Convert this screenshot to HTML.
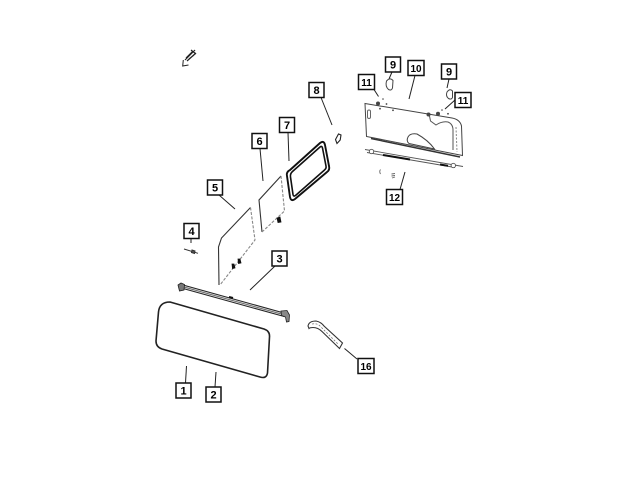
<!DOCTYPE html>
<html><head><meta charset="utf-8"><style>
html,body{margin:0;padding:0;background:#fff;}
svg{display:block;}
text{font-family:"Liberation Sans",Arial,sans-serif;font-weight:bold;font-size:11px;text-anchor:middle;fill:#000;}
</style></head><body>
<svg width="640" height="480" viewBox="0 0 640 480" xmlns="http://www.w3.org/2000/svg">
<rect width="640" height="480" fill="#fff"/>

<!-- top-left small icon -->
<g stroke="#222" stroke-width="1.2" fill="none">
  <path d="M185,60 L195,50 M186,58 L193,51 M187,61 L196,53 M189,59 L194,55 M191,50 L196,54"/>
  <path d="M183.3,60 L182.7,66 L188.5,65" stroke-width="1"/>
</g>

<!-- leader lines -->
<g stroke="#222" stroke-width="1" fill="none">
  <line x1="186.5" y1="366" x2="185.5" y2="383"/>
  <line x1="216" y1="372" x2="215" y2="387"/>
  <line x1="275" y1="266" x2="250" y2="290"/>
  <line x1="191" y1="238.5" x2="191" y2="243"/>
  <line x1="219" y1="195" x2="235" y2="209"/>
  <line x1="260" y1="148.5" x2="263" y2="181"/>
  <line x1="288" y1="132.5" x2="289" y2="161"/>
  <line x1="321" y1="97.5" x2="332" y2="125"/>
  <line x1="392" y1="72" x2="389" y2="79"/>
  <line x1="415" y1="75.5" x2="409" y2="99"/>
  <line x1="449" y1="79" x2="447" y2="88"/>
  <line x1="374" y1="89.5" x2="378.5" y2="96.5"/>
  <line x1="455" y1="100" x2="445" y2="109"/>
  <line x1="400" y1="189.5" x2="405" y2="172"/>
  <line x1="357" y1="359" x2="344.5" y2="348.5"/>
</g>

<!-- Part 1/2: big glass -->
<path d="M170,302 L264,329 Q270,331 269.5,337 L267.5,373 Q266.5,379 260,377 L162,349 Q156,347 156,341 L158.5,312 Q159.5,302 170,302 Z" fill="none" stroke="#222" stroke-width="1.6"/>

<!-- Part 3: strip -->
<path d="M183,285 L284,313 L284,316.5 L183,288.5 Z" fill="#ddd" stroke="#222" stroke-width="1"/>
<line x1="183" y1="286.8" x2="284" y2="314.8" stroke="#555" stroke-width="0.8"/>
<path d="M229,297 L233,298" stroke="#111" stroke-width="2"/>
<path d="M178,285 L181,283 L184.5,284.5 L184,290 L179.5,291 Z" fill="#777" stroke="#222" stroke-width="0.8"/>
<path d="M281,311 L287,310.5 L289.5,315 L289,321.5 L286.5,322 L285.5,317 L281.5,315.5 Z" fill="#888" stroke="#222" stroke-width="0.8"/>

<!-- Part 4: pin -->
<g stroke="#333" stroke-width="1" fill="none">
  <line x1="184" y1="249" x2="198" y2="253.3"/>
  <path d="M192,250 L195,251 L194.5,253.5 L191.5,252.5 Z" fill="#555"/>
</g>

<!-- Part 5: glass -->
<g fill="none" stroke-width="1.1">
  <path d="M219,285 L218.5,247 L221.5,238 L250.5,207.5" stroke="#333"/>
  <path d="M250.5,207.5 L255,240 L220,285" stroke="#888" stroke-dasharray="3,1.5"/>
  <path d="M232,264 L234,264 L235,268 L232.5,268.5 Z M238,259 L240,259 L241,263 L238.5,263.5 Z" fill="#111" stroke="#111" stroke-width="0.8"/>
</g>

<!-- Part 6: glass -->
<g fill="none" stroke-width="1.1">
  <path d="M262,232 L259,200 L281,176" stroke="#333"/>
  <path d="M281,176 L284.5,211 L262,232" stroke="#888" stroke-dasharray="3,1.5"/>
  <path d="M277,218 L280,217 L281,222 L278,222.5 Z" fill="#111" stroke="#111" stroke-width="0.8"/>
</g>

<!-- Part 7: framed glass -->
<path d="M290,170 L320,143 Q324,140 325,145 L329,166 Q330,170 327,172 L295,199 Q291,202 290,197 L287,176 Q286,172 290,170 Z" fill="none" stroke="#111" stroke-width="1.9"/>
<path d="M292.5,171.5 L320,147 Q322,145.5 322.5,148 L326,166 Q326.5,168.5 324.5,170 L295.5,195.5 Q293.5,197 293,194.5 L290.5,177 Q290,173.5 292.5,171.5 Z" fill="none" stroke="#111" stroke-width="1.6"/>

<!-- Part 8: clip -->
<path d="M337,143.5 L335.5,139.5 L338.5,134 L341,135 L340.2,140 Z" fill="#fff" stroke="#222" stroke-width="1.1"/>

<!-- Part 9 left / right -->
<path d="M386.5,81 Q390,77 393,80.5 L392.5,88 Q391.5,91 388.5,89.5 Q385,86.5 386.5,81 Z" fill="#fff" stroke="#444" stroke-width="1"/>
<path d="M447,92 Q450,88 452.5,91 L452.5,97.5 Q451.5,100 448.5,98.5 Q445.5,96 447,92 Z" fill="#fff" stroke="#444" stroke-width="1"/>

<!-- Part 10: panel -->
<g fill="none" stroke="#444" stroke-width="1">
  <path d="M365,103.5 L452,118 Q460,119.5 461.5,126 L462.5,155.5 L366.5,136.5 Z" fill="#fff"/>
  <path d="M371,138.5 L460,157" stroke="#333" stroke-width="1.5"/>
  <path d="M429.5,116 L430.5,121 L436,125 Q442,121 448,122 Q453,124 453,130 L453,150" stroke="#555"/>
  <path d="M456,127 L457,152" stroke="#888" stroke-dasharray="2,1.5"/>
  <path d="M408,137 Q410,133 417,134 Q428,140 434.5,149 L409,143.5 Q406,141 408,137 Z" stroke="#444"/>
  <rect x="367.5" y="110" width="3" height="8.5" rx="1.5" stroke="#666"/>
</g>
<g fill="#444" stroke="none">
  <circle cx="378" cy="103.5" r="2"/>
  <circle cx="386.5" cy="104" r="0.9"/>
  <circle cx="380" cy="108.7" r="0.9"/>
  <circle cx="393" cy="110.3" r="0.9"/>
  <circle cx="428.5" cy="114.5" r="2"/>
  <circle cx="438" cy="113.8" r="2"/>
  <circle cx="448" cy="113.8" r="0.9"/>
  <circle cx="442" cy="110" r="0.8"/>
  <circle cx="383" cy="99" r="0.8"/>
</g>

<!-- Part 12: bar -->
<g fill="none" stroke="#555" stroke-width="0.9">
  <path d="M365,149.5 L463,166.5"/>
  <path d="M367,152.5 L455,167.5"/>
  <path d="M383,155 L410,159.5" stroke="#111" stroke-width="2"/>
  <path d="M440,164.5 L448,165.8" stroke="#111" stroke-width="2"/>
  <circle cx="371.5" cy="151.5" r="2.2" fill="#fff"/>
  <circle cx="453.3" cy="165.5" r="2.2" fill="#fff"/>
  <path d="M380.5,169.5 Q379,171.5 380.5,174" stroke="#666"/>
  <path d="M391.5,174 L395,173.5 M391.5,176 L395,175.5 M392,178 L395,177" stroke="#666"/>
</g>

<!-- Part 16: bracket -->
<path d="M308,326 Q309,321 316,321 Q321,322 324,326 L342.5,343 L339.5,348.5 L322,331.5 Q318,327.5 313,327.5 Q310,327.5 309,328.5 Z" fill="#fff" stroke="#333" stroke-width="1.1"/>
<path d="M312,324 Q317,323 320,326 L338,344" fill="none" stroke="#777" stroke-width="0.8" stroke-dasharray="2,1.5"/>

<!-- label boxes -->
<g fill="#fff" stroke="#111" stroke-width="1.5">
  <rect x="176" y="383" width="15" height="15"/>
  <rect x="206" y="387" width="15" height="15"/>
  <rect x="272" y="251" width="15" height="15"/>
  <rect x="184" y="223.5" width="15" height="15"/>
  <rect x="207.5" y="180" width="15" height="15"/>
  <rect x="252" y="133.5" width="15" height="15"/>
  <rect x="279.5" y="117.5" width="15" height="15"/>
  <rect x="309" y="82.5" width="15" height="15"/>
  <rect x="385.5" y="57" width="15" height="15"/>
  <rect x="408" y="60.5" width="16" height="15"/>
  <rect x="441.5" y="64" width="15" height="15"/>
  <rect x="358.5" y="74.5" width="16" height="15"/>
  <rect x="455" y="92.5" width="16" height="15"/>
  <rect x="386.5" y="189.5" width="16" height="15"/>
  <rect x="358" y="358.5" width="16" height="15"/>
</g>
<text x="183.5" y="394.5">1</text>
<text x="213.5" y="398.5">2</text>
<text x="279.5" y="262.5">3</text>
<text x="191.5" y="235">4</text>
<text x="215" y="191.5">5</text>
<text x="259.5" y="145">6</text>
<text x="287" y="129">7</text>
<text x="316.5" y="94">8</text>
<text x="393" y="68.5">9</text>
<text x="416" y="72" style="font-size:10px">10</text>
<text x="449" y="75.5">9</text>
<text x="366.5" y="86" style="font-size:10px">11</text>
<text x="463" y="104" style="font-size:10px">11</text>
<text x="394.5" y="201" style="font-size:10px">12</text>
<text x="366" y="370" style="font-size:10px">16</text>
</svg>
</body></html>
